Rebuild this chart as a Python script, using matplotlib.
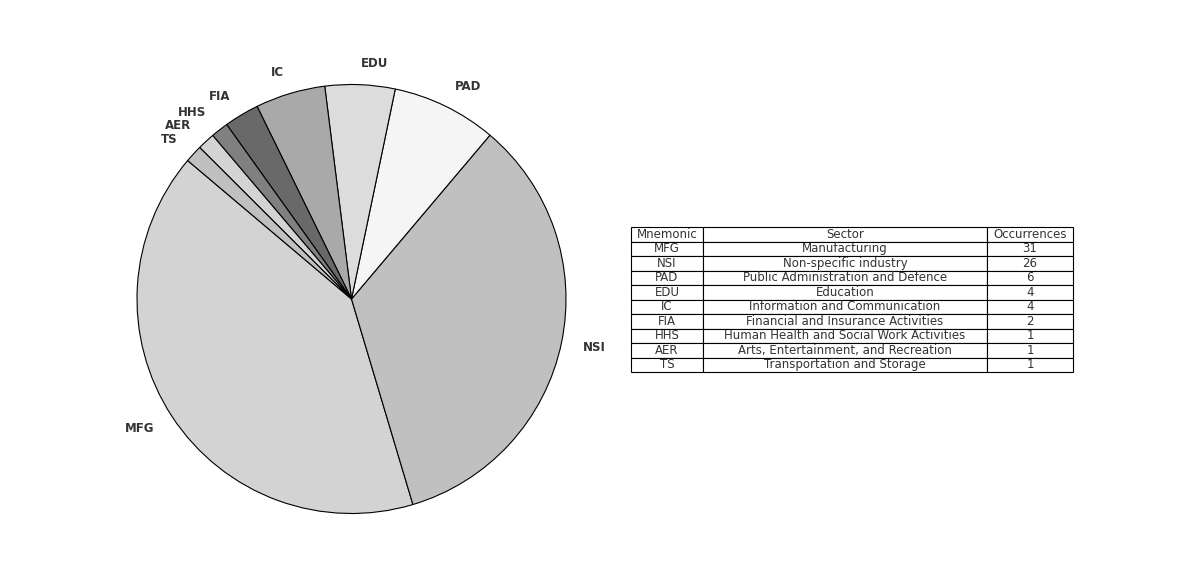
import matplotlib.pyplot as plt

# data
mnemonics = ["MFG", "NSI", "PAD", "EDU", "IC", "FIA", "HHS", "AER", "TS"]
sectors = ["Manufacturing", "Non-specific industry", "Public Administration and Defence",
           "Education", "Information and Communication", "Financial and Insurance Activities",
           "Human Health and Social Work Activities", "Arts, Entertainment, and Recreation",
           "Transportation and Storage"]
occurrences = [31, 26, 6, 4, 4, 2, 1, 1, 1]

grays = ["#d3d3d3", "#c0c0c0", "#f5f5f5", "#dcdcdc", "#a9a9a9", "#696969", "#808080"]
colors = [grays[i % len(grays)] for i in range(len(occurrences))]

fig = plt.figure(figsize=(11.86, 5.86), dpi=100)

# pie on the left
ax1 = fig.add_axes([137 / 1186, 1 - 514 / 586, 429 / 1186, 430 / 586])
ax1.pie(occurrences, labels=mnemonics, colors=colors, startangle=139.8,
        wedgeprops={"edgecolor": "black", "linewidth": 0.8},
        textprops={"fontsize": 8.5, "fontweight": "bold", "color": "#333333"})
ax1.set_aspect("equal")
ax1.set_xlim(-1, 1)
ax1.set_ylim(-1, 1)

# table on the right
ax2 = fig.add_axes([631 / 1186, 1 - 372 / 586, 442 / 1186, 145 / 586])
ax2.axis("off")
rows = [[m, s, str(o)] for m, s, o in zip(mnemonics, sectors, occurrences)]
tbl = ax2.table(cellText=rows, colLabels=["Mnemonic", "Sector", "Occurrences"],
                cellLoc="center", bbox=[0, 0, 1, 1],
                colWidths=[72, 284, 86])
tbl.auto_set_font_size(False)
tbl.set_fontsize(8.5)
for cell in tbl.get_celld().values():
    cell.set_linewidth(0.8)
    cell.get_text().set_color("#333333")

plt.savefig("out.png", dpi=100)
